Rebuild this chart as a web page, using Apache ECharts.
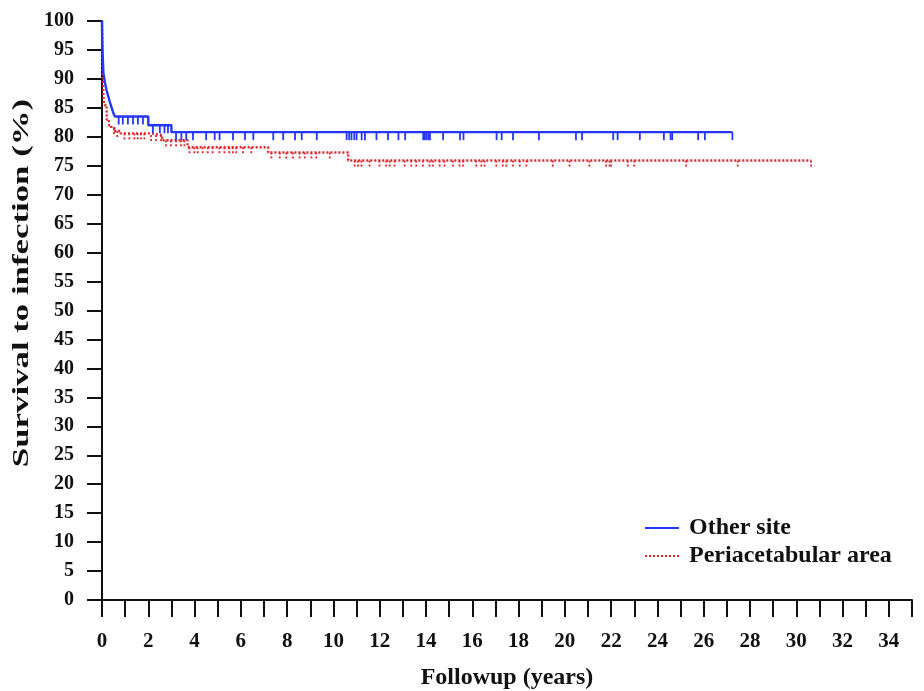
<!DOCTYPE html>
<html>
<head>
<meta charset="utf-8">
<script src="https://cdn.jsdelivr.net/npm/echarts@6/dist/echarts.min.js"></script>
<style>html,body{margin:0;padding:0;background:#fff}#c{width:924px;height:691px}</style>
</head>
<body>
<div id="c"></div>
<script>
// Kaplan–Meier step data (time in years, survival %)
const blueTimes = [0, 0.01, 0.03, 0.06, 0.12, 0.2, 0.27, 0.34, 0.42, 0.5, 0.56, 2.0, 3.0];
const blueSurv  = [100, 97, 94, 91, 89.5, 88, 87, 86, 85, 84, 83.5, 82, 80.8];
const blueEnd = 27.24;
const blueCensor = [0.72, 0.9, 1.12, 1.34, 1.55, 1.77, 2.2, 2.5, 2.7, 2.85, 3.2, 3.43, 3.64, 3.93, 4.5, 4.87, 5.08, 5.66, 6.18, 6.54, 7.4, 7.83, 8.34, 8.63, 9.28, 10.57, 10.68, 10.78, 10.9, 11.0, 11.22, 11.36, 11.86, 12.36, 12.81, 13.1, 13.88, 13.95, 14.02, 14.1, 14.17, 14.74, 15.47, 15.62, 17.05, 17.27, 17.76, 18.88, 20.48, 20.74, 22.09, 22.28, 23.24, 24.28, 24.57, 24.64, 25.76, 26.05, 27.24];

const redTimes = [0, 0.01, 0.03, 0.06, 0.1, 0.2, 0.3, 0.4, 0.55, 0.8, 2.1, 2.6, 3.7, 7.18, 10.64];
const redSurv  = [100, 95, 90, 87, 85.5, 83, 82, 81.5, 81, 80.6, 80.3, 79.4, 78.2, 77.3, 75.9];
const redEnd = 30.64;
const redCensor = [0.52, 0.66, 0.97, 1.18, 1.4, 1.54, 1.69, 1.83, 2.12, 2.33, 2.55, 2.76, 2.98, 3.2, 3.41, 3.56, 3.78, 3.99, 4.13, 4.35, 4.57, 4.78, 5.07, 5.29, 5.5, 5.65, 5.8, 6.09, 6.45, 7.32, 7.68, 7.96, 8.25, 8.54, 8.76, 9.05, 9.26, 9.84, 10.92, 11.06, 11.21, 11.56, 11.99, 12.28, 12.43, 12.64, 13.08, 13.36, 13.58, 13.87, 14.15, 14.3, 14.59, 14.8, 15.16, 15.45, 15.6, 16.17, 16.39, 16.53, 17.04, 17.32, 17.47, 17.76, 18.05, 18.34, 19.48, 20.2, 21.06, 21.78, 21.93, 22.0, 22.72, 23.0, 25.24, 27.47, 30.64];

const seriesNames = ['Other site', 'Periacetabular area'];
const xTitle = 'Followup (years)';
const yTitle = 'Survival to infection (%)';
const xTicks = {min: 0, max: 35, step: 1};
const yTicks = {min: 0, max: 100, step: 5};

const BLUE = '#2437ff';
const RED = '#e3232b';
const FONT = '"Liberation Serif", "DejaVu Serif", serif';

function stepData(times, surv, end) {
  const d = times.map((t, i) => [t, surv[i]]);
  d.push([end, surv[surv.length - 1]]);
  return d;
}
function survAt(times, surv, t) {
  let v = surv[0];
  for (let i = 0; i < times.length; i++) { if (times[i] <= t) v = surv[i]; }
  return v;
}
function censorData(times, surv, cens) {
  return cens.map(t => [t, survAt(times, surv, t)]);
}
function tickRenderer(color, dash) {
  return function (params, api) {
    const p = api.coord([api.value(0), api.value(1)]);
    return {
      type: 'line',
      shape: {x1: p[0], y1: p[1], x2: p[0], y2: p[1] + 8},
      style: {stroke: color, lineWidth: 1.8, lineDash: dash}
    };
  };
}

const chart = echarts.init(document.getElementById('c'), null, {renderer: 'canvas'});
chart.setOption({
  animation: false,
  backgroundColor: '#fff',
  grid: {left: 102, right: 12, top: 21, bottom: 91, containLabel: false, outerBoundsMode: 'none'},
  legend: {
    data: seriesNames,
    orient: 'vertical',
    left: 639, top: 511,
    itemWidth: 34, itemHeight: 14, itemGap: 4,
    itemStyle: {opacity: 0},
    textStyle: {fontFamily: FONT, fontWeight: 'bold', fontSize: 24, color: '#111', padding: [0, 0, 0, 5]}
  },
  graphic: [{
    type: 'text', x: 22, y: 283, rotation: Math.PI / 2, scaleX: 1.45, scaleY: 1,
    silent: true,
    style: {text: yTitle, fontFamily: FONT, fontWeight: 'bold', fontSize: 24, fill: '#111',
      align: 'center', verticalAlign: 'middle', textAlign: 'center', textVerticalAlign: 'middle'}
  }],
  xAxis: {
    type: 'value', min: xTicks.min, max: xTicks.max, interval: xTicks.step,
    name: xTitle, nameLocation: 'middle', nameGap: 66,
    nameTextStyle: {fontFamily: FONT, fontWeight: 'bold', fontSize: 24, color: '#111'},
    axisLine: {show: true, onZero: false, lineStyle: {color: '#111', width: 2}},
    axisTick: {show: true, length: 17, lineStyle: {color: '#111', width: 2}},
    axisLabel: {margin: 31, fontFamily: FONT, fontWeight: 'bold', fontSize: 21, color: '#111',
      formatter: v => (v % 2 === 0 ? String(v) : '')},
    splitLine: {show: false}
  },
  yAxis: {
    type: 'value', min: yTicks.min, max: yTicks.max, interval: yTicks.step,
    axisLine: {show: true, onZero: false, lineStyle: {color: '#111', width: 2}},
    axisTick: {show: true, length: 15, lineStyle: {color: '#111', width: 2}},
    axisLabel: {margin: 28, fontFamily: FONT, fontWeight: 'bold', fontSize: 20, color: '#111'},
    splitLine: {show: false}
  },
  series: [
    {
      name: seriesNames[0], type: 'line', step: 'end', symbol: 'none',
      data: stepData(blueTimes, blueSurv, blueEnd),
      lineStyle: {color: BLUE, width: 2.4}, itemStyle: {color: BLUE}, z: 3
    },
    {
      name: seriesNames[1], type: 'line', step: 'end', symbol: 'none',
      data: stepData(redTimes, redSurv, redEnd),
      lineStyle: {color: RED, width: 2.4, type: [2, 2]}, itemStyle: {color: RED}, z: 2
    },
    {
      name: 'blue-censor', type: 'custom',
      data: censorData(blueTimes, blueSurv, blueCensor),
      renderItem: tickRenderer(BLUE, null), z: 3
    },
    {
      name: 'red-censor', type: 'custom',
      data: censorData(redTimes, redSurv, redCensor),
      renderItem: tickRenderer(RED, [2, 2]), z: 2
    }
  ]
});
</script>
</body>
</html>
